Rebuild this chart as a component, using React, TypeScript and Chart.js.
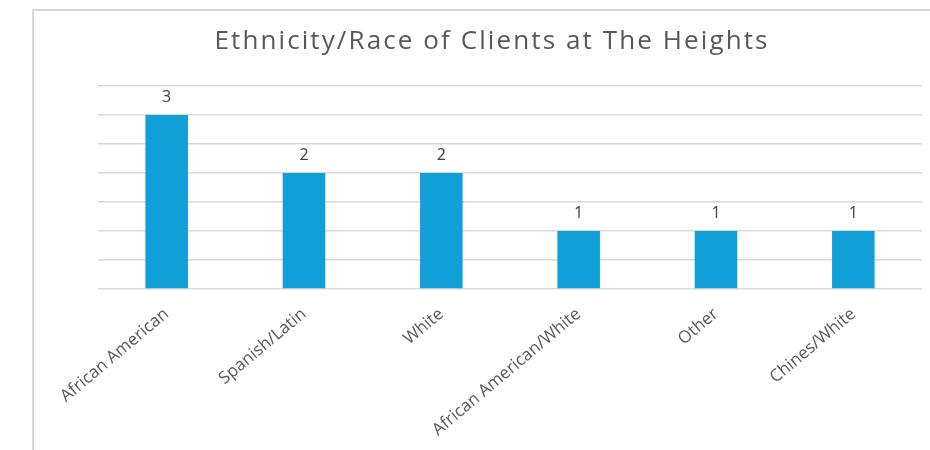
import React, { useEffect, useRef } from "react";
import { Chart, registerables } from "chart.js";

Chart.register(...registerables);

const TITLE = "Ethnicity/Race of Clients at The Heights";
const categories = [
  "African American",
  "Spanish/Latin",
  "White",
  "African American/White",
  "Other",
  "Chines/White",
];
const counts = [3, 2, 2, 1, 1, 1];
const Y_MAX = 3.5;
const Y_STEP = 0.5;

const FONT = "'Open Sans', 'DejaVu Sans', sans-serif";

const titlePlugin = {
  id: "customTitle",
  afterDraw(chart: any) {
    const ctx = chart.ctx;
    ctx.save();
    ctx.font = `26px ${FONT}`;
    (ctx as any).letterSpacing = "2.1px";
    ctx.fillStyle = "#595959";
    ctx.textAlign = "center";
    ctx.textBaseline = "middle";
    ctx.fillText(TITLE, 492, 42);
    ctx.restore();
  },
};

const dataLabelPlugin = {
  id: "dataLabels",
  afterDatasetsDraw(chart: any) {
    const ctx = chart.ctx;
    ctx.save();
    ctx.font = `16px ${FONT}`;
    ctx.fillStyle = "#404040";
    ctx.textAlign = "center";
    ctx.textBaseline = "bottom";
    const meta = chart.getDatasetMeta(0);
    meta.data.forEach((bar: any, i: number) => {
      ctx.fillText(String(counts[i]), bar.x, bar.y - 10);
    });
    ctx.restore();
  },
};

export default function App() {
  const ref = useRef<HTMLCanvasElement | null>(null);

  useEffect(() => {
    if (!ref.current) return;
    const chart = new Chart(ref.current, {
      type: "bar",
      data: {
        labels: categories,
        datasets: [
          {
            data: counts,
            backgroundColor: "#119fd7",
            borderWidth: 0,
            categoryPercentage: 1,
            barPercentage: 0.31,
          },
        ],
      },
      options: {
        animation: false,
        responsive: false,
        devicePixelRatio: 1,
        layout: { padding: { left: 98, right: 8, top: 86, bottom: 0 } },
        plugins: {
          legend: { display: false },
          title: { display: false },
          tooltip: { enabled: false },
        },
        scales: {
          x: {
            grid: { display: false },
            border: { display: false },
            ticks: {
              color: "#595959",
              font: { family: FONT, size: 17 },
              minRotation: 40,
              maxRotation: 40,
              padding: 7,
              autoSkip: false,
            },
            afterFit(scale: any) {
              scale.height = 450 - 289;
            },
          },
          y: {
            min: 0,
            max: Y_MAX,
            ticks: { display: false, stepSize: Y_STEP },
            grid: { color: "#d9d9d9", lineWidth: 1.5, drawTicks: false },
            border: { display: false },
          },
        },
      },
      plugins: [titlePlugin, dataLabelPlugin],
    });
    return () => chart.destroy();
  }, []);

  return (
    <div
      style={{
        position: "fixed",
        left: 0,
        top: 0,
        width: 930,
        height: 450,
        overflow: "hidden",
        background: "#fff",
      }}
    >
      <div
        style={{
          position: "absolute",
          left: 32,
          top: 9,
          width: 1000,
          height: 1000,
          borderLeft: "2px solid #d9d9d9",
          borderTop: "2px solid #d9d9d9",
        }}
      />
      <canvas
        ref={ref}
        width={930}
        height={450}
        style={{ position: "absolute", left: 0, top: 0, width: 930, height: 450 }}
      />
    </div>
  );
}
